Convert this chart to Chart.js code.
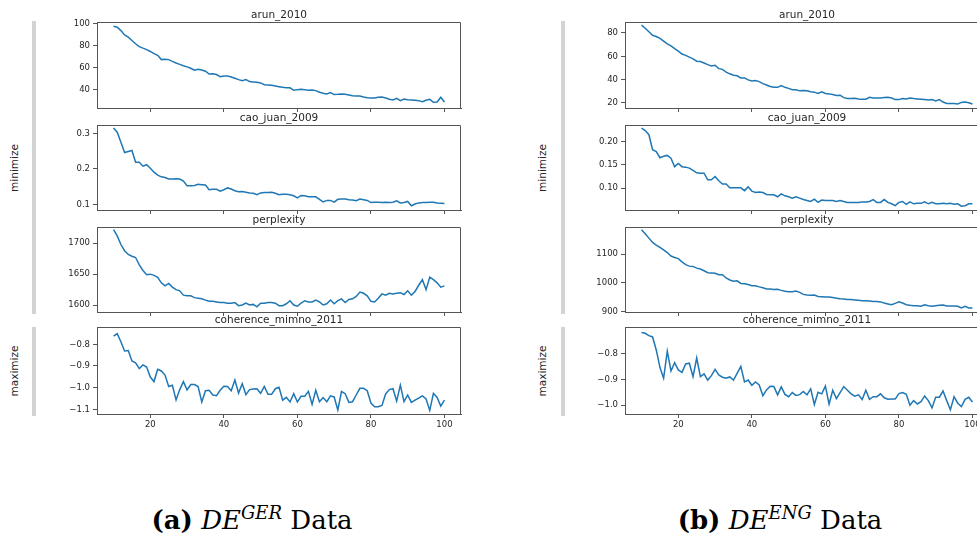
<!DOCTYPE html>
<html>
<head>
<meta charset="utf-8">
<title>Topic metrics</title>
<script src="https://cdn.jsdelivr.net/npm/chart.js@4.4.1/dist/chart.umd.min.js"></script>
<style>
  body { margin: 0; width: 977px; height: 535px; overflow: hidden; background: #fff; position: relative; font-family: "DejaVu Sans", sans-serif; }
  canvas { position: absolute; }
  .bar { position: absolute; width: 4px; background: #d3d3d3; }
  .side { position: absolute; font-size: 10.5px; color: #262626; white-space: nowrap; transform: translate(-50%, -50%) rotate(-90deg); }
  .caption { position: absolute; top: 505px; line-height: 30px; font-family: "DejaVu Serif", serif; font-size: 26px; color: #000; white-space: nowrap; transform: translateX(-50%); }
  .caption sup { font-size: 18px; vertical-align: 10px; line-height: 0; }
</style>
</head>
<body>

<div class="bar" style="left:32px; top:21px; height:293px"></div>
<div class="bar" style="left:32px; top:327px; height:89px"></div>
<div class="bar" style="left:561px; top:21px; height:293px"></div>
<div class="bar" style="left:561px; top:327px; height:89px"></div>

<div class="side" style="left:14px; top:168px">minimize</div>
<div class="side" style="left:14px; top:371px">maximize</div>
<div class="side" style="left:542px; top:168px">minimize</div>
<div class="side" style="left:542px; top:371px">maximize</div>

<div class="caption" style="left:252px"><b>(a)</b> <i>DE<sup>GER</sup></i> Data</div>
<div class="caption" style="left:780px"><b>(b)</b> <i>DE<sup>ENG</sup></i> Data</div>

<script>
// nombre de topics (axe x commun)
const topics = [10, 11, 12, 13, 14, 15, 16, 17, 18, 19,
  20, 21, 22, 23, 24, 25, 26, 27, 28, 29,
  30, 31, 32, 33, 34, 35, 36, 37, 38, 39,
  40, 41, 42, 43, 44, 45, 46, 47, 48, 49,
  50, 51, 52, 53, 54, 55, 56, 57, 58, 59,
  60, 61, 62, 63, 64, 65, 66, 67, 68, 69,
  70, 71, 72, 73, 74, 75, 76, 77, 78, 79,
  80, 81, 82, 83, 84, 85, 86, 87, 88, 89,
  90, 91, 92, 93, 94, 95, 96, 97, 98, 99,
  100];
const xTicks = [20, 40, 60, 80, 100];

// --- DE GER ---
const gerArun = [98, 97, 94, 90, 88, 85, 82, 79.4, 78, 76.7,
  75, 73, 71.5, 67.6, 68, 67.6, 66, 64.5, 63.3, 62,
  61, 59.7, 58, 58.8, 58.2, 57, 54.5, 54.8, 54, 52,
  52.7, 52.7, 51.8, 50.6, 49.4, 48.5, 49.4, 47.6, 47.3, 47,
  46.4, 44.8, 44.5, 44.2, 43.6, 43, 42.4, 42, 42, 39.7,
  40.3, 40.6, 40.3, 39.7, 40, 39.4, 37.9, 37, 36.4, 37.6,
  35.8, 36, 36.4, 36, 35.5, 34.8, 34.5, 34.5, 33.6, 33,
  32.7, 32.7, 33.3, 33.6, 32.7, 31.5, 30.9, 32.4, 30.3, 31.8,
  31.2, 30.9, 30.6, 30.3, 29.4, 30.6, 31.5, 28.8, 29, 33.3,
  29];
const gerCaoJuan = [0.315, 0.303, 0.275, 0.246, 0.249, 0.252, 0.219, 0.219, 0.208, 0.212,
  0.202, 0.191, 0.183, 0.178, 0.176, 0.172, 0.172, 0.173, 0.172, 0.166,
  0.153, 0.153, 0.154, 0.157, 0.156, 0.155, 0.142, 0.143, 0.143, 0.138,
  0.142, 0.147, 0.144, 0.139, 0.136, 0.137, 0.135, 0.133, 0.132, 0.128,
  0.133, 0.134, 0.134, 0.135, 0.132, 0.128, 0.129, 0.129, 0.128, 0.125,
  0.119, 0.126, 0.125, 0.122, 0.122, 0.122, 0.115, 0.108, 0.112, 0.112,
  0.107, 0.115, 0.116, 0.116, 0.114, 0.113, 0.111, 0.116, 0.114, 0.112,
  0.106, 0.107, 0.107, 0.106, 0.107, 0.106, 0.107, 0.111, 0.105, 0.106,
  0.109, 0.097, 0.102, 0.105, 0.106, 0.106, 0.107, 0.107, 0.105, 0.104,
  0.103];
const gerPerplexity = [1722, 1712, 1698, 1688, 1682, 1679, 1677, 1665, 1656, 1649,
  1650, 1648, 1645, 1636, 1631, 1635, 1629, 1625, 1623, 1616,
  1615, 1615, 1612, 1611, 1610, 1608, 1606, 1606, 1605, 1604,
  1604, 1603, 1603, 1604, 1599, 1600, 1603, 1600, 1601, 1597,
  1603, 1603, 1604, 1604, 1603, 1599, 1599, 1602, 1607, 1600,
  1598, 1603, 1607, 1605, 1605, 1608, 1605, 1600, 1602, 1608,
  1602, 1607, 1610, 1604, 1609, 1610, 1614, 1621, 1619, 1615,
  1606, 1605, 1611, 1618, 1616, 1619, 1618, 1619, 1620, 1617,
  1623, 1616, 1622, 1632, 1641, 1625, 1645, 1641, 1636, 1629,
  1631];
const gerCoherence = [-0.762, -0.751, -0.788, -0.831, -0.829, -0.877, -0.885, -0.912, -0.895, -0.905,
  -0.951, -0.972, -0.915, -0.923, -0.942, -0.995, -0.989, -1.057, -1.009, -0.972,
  -1.011, -0.986, -0.986, -0.995, -1.066, -1.014, -1.012, -1.034, -1.037, -1.012,
  -0.994, -0.995, -1.014, -0.965, -1.025, -0.982, -1.032, -1.009, -1.006, -1.005,
  -1.026, -0.994, -1.031, -1.031, -1.005, -0.998, -1.058, -1.045, -1.066, -1.028,
  -1.066, -1.040, -1.040, -1.017, -1.077, -1.012, -1.065, -1.046, -1.065, -1.038,
  -1.043, -1.103, -1.018, -1.028, -1.068, -1.065, -1.034, -1.003, -1.003, -1.014,
  -1.071, -1.088, -1.088, -1.082, -1.029, -1.009, -1.005, -1.062, -0.988, -1.065,
  -1.034, -1.068, -1.058, -1.048, -1.038, -1.052, -1.105, -1.026, -1.045, -1.085,
  -1.058];

// --- DE ENG ---
const engArun = [86.7, 84, 81, 78, 77, 75.3, 73, 70.7, 69, 66.6,
  64.5, 62, 60.8, 59.3, 57.8, 55.8, 55.5, 54.3, 52.9, 51.7,
  52.3, 49.4, 48.8, 46.5, 45, 43.8, 43.3, 41.5, 41.5, 39.8,
  38.9, 39.2, 38.3, 36.6, 35.4, 34.2, 33.4, 33.4, 35, 33.4,
  32.5, 31.3, 31.3, 30.4, 30.7, 30.4, 29.6, 29.3, 28.1, 29.6,
  28.1, 27.8, 27.2, 26.4, 26.7, 24.6, 23.8, 23.8, 24, 23.5,
  23.2, 23.2, 24.9, 24.3, 24.3, 24.3, 24.6, 24.9, 24.3, 22.9,
  22.9, 23.8, 23.5, 24.3, 23.8, 23.5, 23.2, 22.9, 22.6, 22.9,
  21.7, 22.9, 20.8, 19.6, 19.6, 19.6, 19.1, 20.5, 20.8, 20.2,
  19.1];
const engCaoJuan = [0.228, 0.223, 0.214, 0.182, 0.178, 0.165, 0.168, 0.170, 0.164, 0.146,
  0.153, 0.146, 0.145, 0.143, 0.138, 0.133, 0.132, 0.132, 0.118, 0.118,
  0.125, 0.116, 0.109, 0.109, 0.101, 0.101, 0.101, 0.101, 0.095, 0.103,
  0.094, 0.091, 0.092, 0.091, 0.087, 0.086, 0.086, 0.082, 0.088, 0.084,
  0.082, 0.079, 0.082, 0.079, 0.076, 0.074, 0.072, 0.077, 0.070, 0.075,
  0.074, 0.074, 0.074, 0.072, 0.074, 0.072, 0.070, 0.070, 0.070, 0.070,
  0.071, 0.071, 0.072, 0.076, 0.070, 0.070, 0.076, 0.070, 0.067, 0.063,
  0.070, 0.072, 0.066, 0.071, 0.067, 0.068, 0.068, 0.071, 0.067, 0.070,
  0.067, 0.067, 0.068, 0.067, 0.068, 0.066, 0.067, 0.062, 0.063, 0.067,
  0.067];
const engPerplexity = [1184, 1170, 1155, 1140, 1131, 1123, 1114, 1105, 1093, 1088,
  1084, 1073, 1063, 1058, 1057, 1051, 1048, 1042, 1035, 1034,
  1033, 1028, 1028, 1017, 1010, 1006, 1007, 998, 997, 994,
  990, 990, 986, 983, 979, 979, 977, 978, 974, 971,
  969, 969, 972, 967, 960, 958, 957, 958, 953, 952,
  951, 951, 949, 947, 945, 944, 942, 942, 941, 940,
  938, 938, 937, 935, 935, 934, 930, 927, 924, 929,
  934, 930, 924, 922, 921, 921, 919, 924, 921, 919,
  921, 922, 923, 920, 920, 920, 919, 913, 919, 913,
  913];
const engCoherence = [-0.720, -0.723, -0.732, -0.737, -0.787, -0.854, -0.896, -0.792, -0.868, -0.836,
  -0.864, -0.873, -0.841, -0.838, -0.890, -0.818, -0.890, -0.879, -0.903, -0.886,
  -0.862, -0.883, -0.892, -0.896, -0.891, -0.903, -0.877, -0.850, -0.910, -0.903,
  -0.923, -0.910, -0.922, -0.963, -0.941, -0.927, -0.928, -0.960, -0.929, -0.958,
  -0.967, -0.951, -0.962, -0.959, -0.947, -0.960, -0.937, -0.997, -0.950, -0.956,
  -0.926, -0.996, -0.942, -0.974, -0.951, -0.928, -0.942, -0.956, -0.965, -0.960,
  -0.978, -0.942, -0.977, -0.967, -0.967, -0.956, -0.971, -0.977, -0.976, -0.976,
  -0.955, -0.951, -0.958, -1.000, -0.982, -0.995, -0.986, -0.964, -0.982, -1.010,
  -0.969, -0.969, -0.945, -0.982, -1.017, -0.967, -0.992, -1.005, -0.977, -0.969,
  -0.987];

// graduations de l'axe y
const gerArunTicks = [40, 60, 80, 100];
const gerCaoJuanTicks = [0.1, 0.2, 0.3];
const gerPerplexityTicks = [1600, 1650, 1700];
const gerCoherenceTicks = [-1.1, -1.0, -0.9, -0.8];
const engArunTicks = [20, 40, 60, 80];
const engCaoJuanTicks = [0.10, 0.15, 0.20];
const engPerplexityTicks = [900, 1000, 1100];
const engCoherenceTicks = [-1.0, -0.9, -0.8];

const AXIS_W = 60;     // largeur réservée à l'axe y
const TITLE_H = 15;    // hauteur du titre (12.6 + padding)
const SPINE = '#555';
const TEXT = '#262626';
const LINE = '#1f77b4';

// cadre complet autour de la zone de tracé (haut + droite)
const cadre = {
  id: 'cadre',
  afterDraw(chart) {
    const {ctx, chartArea: a} = chart;
    ctx.save();
    ctx.strokeStyle = SPINE;
    ctx.lineWidth = 1;
    ctx.beginPath();
    const t = Math.round(a.top) + 0.5, r = Math.round(a.right) - 0.5;
    ctx.moveTo(a.left, t);
    ctx.lineTo(r, t);
    ctx.lineTo(r, a.bottom);
    ctx.stroke();
    ctx.restore();
  }
};

function formatTick(v, digits) {
  return v.toFixed(digits).replace('-', '\u2212');
}

function sousGraphe(p) {
  const axisH = p.bottomRow ? 24 : 8;
  const canvas = document.createElement('canvas');
  canvas.width = AXIS_W + p.width + 14;
  canvas.height = TITLE_H + p.height + axisH;
  canvas.style.left = (p.left - AXIS_W) + 'px';
  canvas.style.top = (p.top - TITLE_H) + 'px';
  document.body.appendChild(canvas);

  new Chart(canvas, {
    type: 'line',
    data: {
      datasets: [{
        data: topics.map((t, i) => ({x: t, y: p.values[i]})),
        borderColor: LINE,
        borderWidth: 1.5,
        pointRadius: 0,
        tension: 0,
        fill: false
      }]
    },
    options: {
      responsive: false,
      animation: false,
      events: [],
      layout: { padding: { left: 0, right: 14, top: 0, bottom: 0 } },
      plugins: {
        legend: { display: false },
        tooltip: { enabled: false },
        title: {
          display: true,
          fullSize: false,
          text: p.title,
          color: TEXT,
          font: { family: 'DejaVu Sans', size: 10.5, weight: 'normal', lineHeight: 1.2 },
          padding: { top: 1.6, bottom: 0.8 }
        }
      },
      scales: {
        x: {
          type: 'linear',
          min: 5.5,
          max: 104.5,
          grid: { drawOnChartArea: false, drawTicks: true, tickLength: 4, color: SPINE },
          border: { color: SPINE },
          ticks: { display: p.bottomRow, color: TEXT, padding: 2, font: { family: 'DejaVu Sans', size: 8.5 } },
          afterBuildTicks: s => { s.ticks = xTicks.map(v => ({value: v})); },
          afterFit: s => { s.height = axisH; s.paddingLeft = 0; s.paddingRight = 0; }
        },
        y: {
          min: p.min,
          max: p.max,
          grid: { drawOnChartArea: false, drawTicks: true, tickLength: 4, color: SPINE },
          border: { color: SPINE },
          ticks: {
            color: TEXT,
            padding: 3,
            font: { family: 'DejaVu Sans', size: 8.5 },
            callback: v => formatTick(v, p.digits)
          },
          afterBuildTicks: s => { s.ticks = p.ticks.map(v => ({value: v})); },
          afterFit: s => { s.width = AXIS_W; s.paddingTop = 0; s.paddingBottom = 0; }
        }
      }
    },
    plugins: [cadre]
  });
}

const rangees = [
  {top: 22, height: 86},
  {top: 125, height: 85},
  {top: 227, height: 85},
  {top: 327, height: 87}
];

const panneaux = [
  {left: 97, width: 364, series: [
    {title: 'arun_2010', values: gerArun, ticks: gerArunTicks, digits: 0, min: 23.6, max: 101.8},
    {title: 'cao_juan_2009', values: gerCaoJuan, ticks: gerCaoJuanTicks, digits: 1, min: 0.0851, max: 0.3233},
    {title: 'perplexity', values: gerPerplexity, ticks: gerPerplexityTicks, digits: 0, min: 1588.7, max: 1726.4},
    {title: 'coherence_mimno_2011', values: gerCoherence, ticks: gerCoherenceTicks, digits: 1, min: -1.1217, max: -0.720}
  ]},
  {left: 625, width: 364, series: [
    {title: 'arun_2010', values: engArun, ticks: engArunTicks, digits: 0, min: 15.7, max: 89.4},
    {title: 'cao_juan_2009', values: engCaoJuan, ticks: engCaoJuanTicks, digits: 2, min: 0.0538, max: 0.2347},
    {title: 'perplexity', values: engPerplexity, ticks: engPerplexityTicks, digits: 0, min: 899, max: 1193.6},
    {title: 'coherence_mimno_2011', values: engCoherence, ticks: engCoherenceTicks, digits: 1, min: -1.0335, max: -0.6988}
  ]}
];

panneaux.forEach(pan => {
  pan.series.forEach((s, i) => {
    sousGraphe(Object.assign({}, s, rangees[i], {
      left: pan.left,
      width: pan.width,
      bottomRow: i === rangees.length - 1
    }));
  });
});
</script>
</body>
</html>
